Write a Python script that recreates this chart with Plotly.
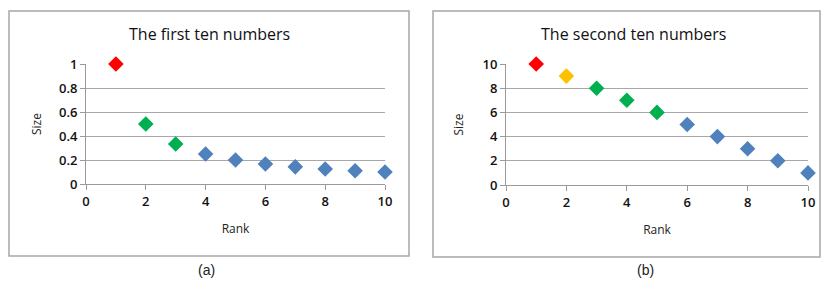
import plotly.graph_objects as go

ranks = [1, 2, 3, 4, 5, 6, 7, 8, 9, 10]
first_sizes = [1.0, 0.5, 0.333, 0.25, 0.2, 0.167, 0.143, 0.125, 0.111, 0.1]
second_sizes = [10, 9, 8, 7, 6, 5, 4, 3, 2, 1]
first_colors = ["#FF0000", "#00B050", "#00B050"] + ["#4F81BD"] * 7
second_colors = ["#FF0000", "#FFC000", "#00B050", "#00B050", "#00B050"] + ["#4F81BD"] * 5
titles = ["The first ten numbers", "The second ten numbers"]
captions = ["(a)", "(b)"]
x_ticks = [0, 2, 4, 6, 8, 10]
y1_ticks = [0, 0.2, 0.4, 0.6, 0.8, 1]
y1_labels = ["0", "0.2", "0.4", "0.6", "0.8", "1"]
y2_ticks = [0, 2, 4, 6, 8, 10]

W, H = 821, 282
def px(x): return x / W
def py(y): return 1 - y / H

FONT = "Open Sans"
LINE = "#9A9A9A"
GRID = "#A8A8A8"

fig = go.Figure()
fig.add_trace(go.Scatter(x=ranks, y=first_sizes, mode="markers",
                         marker=dict(symbol="diamond", size=12, color=first_colors),
                         xaxis="x", yaxis="y", cliponaxis=False, showlegend=False))
fig.add_trace(go.Scatter(x=ranks, y=second_sizes, mode="markers",
                         marker=dict(symbol="diamond", size=12, color=second_colors),
                         xaxis="x2", yaxis="y2", cliponaxis=False, showlegend=False))

axis_common = dict(showline=True, linecolor=LINE, linewidth=1, ticks="outside",
                   ticklen=5, tickcolor=LINE, zeroline=False, automargin=False,
                   tickfont=dict(family=FONT, size=13, color="#111", weight=600),
                   title_font=dict(family=FONT, size=12, color="#222"))

fig.update_layout(
    template="none",
    width=W, height=H, margin=dict(l=0, r=0, t=0, b=0),
    paper_bgcolor="white", plot_bgcolor="white",
    xaxis=dict(domain=[px(86), px(385)], range=[0, 10], tickvals=x_ticks,
               showgrid=False, anchor="y", title=dict(text="Rank", standoff=16), **axis_common),
    yaxis=dict(domain=[py(184), py(64)], range=[0, 1], tickvals=y1_ticks, ticktext=y1_labels,
               showgrid=True, gridcolor=GRID, anchor="x", title=dict(text="Size", standoff=14),
               **axis_common),
    xaxis2=dict(domain=[px(506), px(808)], range=[0, 10], tickvals=x_ticks,
                showgrid=False, anchor="y2", title=dict(text="Rank", standoff=16), **axis_common),
    yaxis2=dict(domain=[py(185), py(64)], range=[0, 10], tickvals=y2_ticks,
                showgrid=True, gridcolor=GRID, anchor="x2", title=dict(text="Size", standoff=16),
                **axis_common),
)

# panel boxes
fig.add_shape(type="rect", xref="paper", yref="paper", x0=px(9), x1=px(409), y0=py(256), y1=py(11),
              line=dict(color="#A6A6A6", width=1.5), layer="below")
fig.add_shape(type="rect", xref="paper", yref="paper", x0=px(433), x1=px(820), y0=py(257), y1=py(11),
              line=dict(color="#A6A6A6", width=1.5), layer="below")

ann = dict(xref="paper", yref="paper", showarrow=False, xanchor="center", yanchor="middle")
fig.add_annotation(text=titles[0], x=px(209), y=py(34), font=dict(family=FONT, size=16, color="#111"), **ann)
fig.add_annotation(text=titles[1], x=px(633), y=py(34), font=dict(family=FONT, size=16, color="#111"), **ann)
fig.add_annotation(text=captions[0], x=px(206), y=py(270), font=dict(family="Liberation Sans", size=14, color="#222"), **ann)
fig.add_annotation(text=captions[1], x=px(645), y=py(270), font=dict(family="Liberation Sans", size=14, color="#222"), **ann)

fig.write_html("out.html", config={"displayModeBar": False},
               post_script="document.body.style.margin='0';document.body.style.overflow='hidden';")
